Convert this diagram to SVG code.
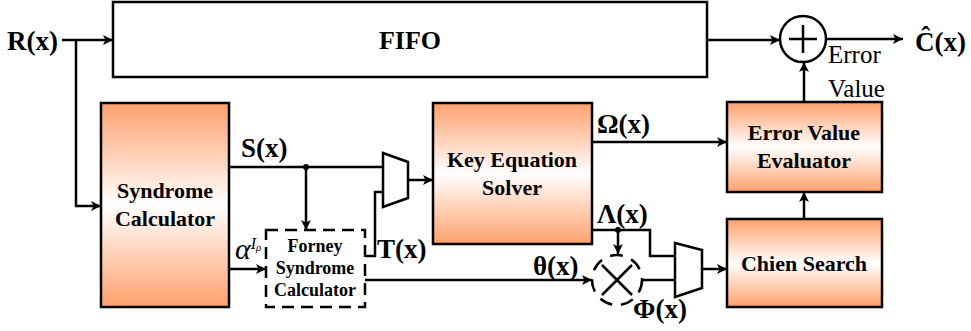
<svg xmlns="http://www.w3.org/2000/svg" width="971" height="331" viewBox="0 0 971 331" font-family="'Liberation Serif', 'Times New Roman', serif">
<defs>
<linearGradient id="og" x1="0" y1="0" x2="0" y2="1">
<stop offset="0" stop-color="#FFA06C"/>
<stop offset="0.5" stop-color="#FFFFFF"/>
<stop offset="1" stop-color="#FFA06C"/>
</linearGradient>
<marker id="ah" viewBox="0 0 10 10" refX="10" refY="5" markerWidth="11" markerHeight="10" markerUnits="userSpaceOnUse" orient="auto">
<path d="M0,0 L10,5 L0,10 L2.5,5 z" fill="#000"/>
</marker>
<style>
.box{fill:url(#og);stroke:#000;stroke-width:2.5}
.wb{fill:#fff;stroke:#000;stroke-width:2.5}
.ln{fill:none;stroke:#000;stroke-width:2.5}
.arr{fill:none;stroke:#000;stroke-width:2.5;marker-end:url(#ah)}
.dash{fill:#fff;stroke:#000;stroke-width:2.5;stroke-dasharray:12 7}
.t{font-weight:bold;font-size:22px;text-anchor:middle;fill:#000}
.lb{font-weight:bold;font-size:27px;fill:#000}
.rg{font-size:25px;fill:#000}
.sm{font-weight:bold;font-size:18px;text-anchor:middle;fill:#000}
.it{font-style:italic;fill:#000}
</style>
</defs>
<g id="fifo">
<rect class="wb" x="113" y="2" width="594" height="75"/>
<text class="t" x="410" y="49" style="font-size:26px">FIFO</text>
</g>
<g id="syndrome">
<rect class="box" x="101" y="103" width="128" height="204"/>
<text class="t" x="165" y="198">Syndrome</text>
<text class="t" x="165" y="226">Calculator</text>
</g>
<g id="forney">
<rect class="dash" x="266" y="230" width="99" height="77"/>
<text class="sm" x="315" y="252">Forney</text>
<text class="sm" x="315" y="274">Syndrome</text>
<text class="sm" x="315" y="296">Calculator</text>
</g>
<g id="mux1">
<polygon class="wb" points="383,153 408,162 408,198 383,207"/>
</g>
<g id="kes">
<rect class="box" x="433" y="103" width="159" height="141"/>
<text class="t" x="512" y="167">Key Equation</text>
<text class="t" x="512" y="195">Solver</text>
</g>
<g id="eve">
<rect class="box" x="727" y="102" width="155" height="90"/>
<text class="t" x="804" y="140">Error Value</text>
<text class="t" x="804" y="168">Evaluator</text>
</g>
<g id="chien">
<rect class="box" x="727" y="219" width="155" height="88"/>
<text class="t" x="804" y="271">Chien Search</text>
</g>
<g id="mult">
<circle cx="617" cy="280" r="25" fill="#fff" stroke="#000" stroke-width="2.5" stroke-dasharray="13 9"/>
<path class="ln" d="M602,265 L632,295 M632,265 L602,295"/>
</g>
<g id="mux2">
<polygon class="wb" points="675,243 702,250 702,288 675,297"/>
</g>
<g id="adder">
<circle cx="803" cy="39" r="23" fill="#fff" stroke="#000" stroke-width="2.5"/>
<path class="ln" d="M789,39 H817 M803,25 V53"/>
</g>
<g id="connectors">
<path class="arr" d="M62,40 H113"/>
<path class="arr" d="M76,40 V206 H101"/>
<path class="ln" d="M229,167 H383"/>
<circle cx="306" cy="167" r="3" fill="#000"/>
<path class="arr" d="M306,167 V230"/>
<path class="arr" d="M408,180 H433"/>
<path class="ln" d="M383,192 H375 V256 H366"/>
<path class="arr" d="M229,269 H266"/>
<path class="arr" d="M365,280 H592"/>
<path class="arr" d="M592,142 H727"/>
<path class="ln" d="M592,230 H650 V256 H675"/>
<circle cx="618" cy="230" r="3" fill="#000"/>
<path class="arr" d="M618,230 V254"/>
<path class="ln" d="M642,280 H675"/>
<path class="arr" d="M702,269 H727"/>
<path class="arr" d="M804,219 V192"/>
<path class="arr" d="M804,102 V62"/>
<path class="arr" d="M707,40 H780"/>
<path class="arr" d="M826,39 H903"/>
</g>
<g id="labels">
<text class="lb" x="7" y="50">R(x)</text>
<text class="lb" x="241" y="157">S(x)</text>
<text class="lb" x="377" y="258">T(x)</text>
<text class="lb" x="597" y="133">Ω(x)</text>
<text class="lb" x="597" y="223">Λ(x)</text>
<text class="lb" x="533" y="275">θ(x)</text>
<text class="lb" x="633" y="318">Φ(x)</text>
<text class="lb" x="915" y="51">Ĉ(x)</text>
<text class="rg" x="828" y="63">Error</text>
<text class="rg" x="828" y="97">Value</text>
<text class="it" x="235" y="259" font-size="30">α<tspan font-size="16" dy="-10">I</tspan><tspan font-size="11" dy="2">ρ</tspan></text>
</g>
</svg>
